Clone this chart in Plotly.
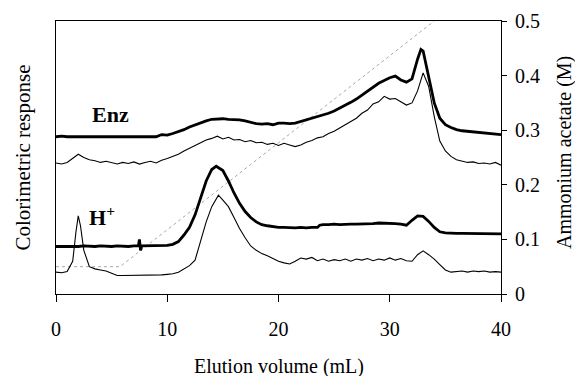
import plotly.graph_objects as go

# ---- data (x in mL, y in plot units of the right axis) ----
enz_thick_x = [0,0.5,1,1.5,2,2.5,3,3.5,4,4.5,5,5.5,6,6.5,7,7.5,8,8.5,9,9.5,10,10.5,11,11.5,12,12.5,13,13.5,14,14.5,15,15.5,16,16.5,17,17.5,18,18.5,19,19.5,20,20.5,21,21.5,22,22.5,23,23.5,24,24.5,25,25.5,26,26.5,27,27.5,28,28.5,29,29.5,30,30.5,31,31.5,32,32.5,32.8,33,33.5,34,34.5,35,35.5,36,36.5,37,37.5,38,38.5,39,39.5,40]
enz_thick_y = [.288,.289,.288,.288,.289,.288,.288,.289,.288,.288,.288,.289,.288,.288,.289,.288,.288,.289,.288,.292,.291,.294,.297,.301,.306,.310,.314,.317,.320,.321,.321,.320,.320,.319,.317,.314,.312,.311,.312,.310,.313,.313,.312,.313,.316,.318,.321,.324,.327,.331,.335,.340,.345,.351,.357,.364,.371,.379,.386,.391,.396,.399,.392,.388,.394,.430,.448,.445,.395,.350,.322,.310,.305,.301,.299,.298,.297,.296,.295,.293,.292,.292]

enz_thin_x = [0,0.5,1,1.5,2,2.5,3,3.5,4,4.5,5,5.5,6,6.5,7,7.5,8,8.5,9,9.5,10,10.5,11,11.5,12,12.5,13,13.5,14,14.5,15,15.5,16,16.5,17,17.5,18,18.5,19,19.5,20,20.5,21,21.5,22,22.5,23,23.5,24,24.5,25,25.5,26,26.5,27,27.5,28,28.5,29,29.5,30,30.5,31,31.5,32,32.5,33,33.5,34,34.5,35,35.5,36,36.5,37,37.5,38,38.5,39,39.5,40]
enz_thin_y = [.240,.238,.241,.248,.256,.250,.246,.244,.241,.243,.240,.238,.241,.239,.242,.238,.241,.243,.240,.245,.248,.252,.256,.262,.267,.272,.277,.282,.285,.289,.284,.287,.282,.283,.279,.281,.277,.278,.274,.276,.272,.276,.273,.270,.273,.278,.281,.286,.288,.294,.298,.304,.309,.316,.322,.331,.337,.348,.352,.362,.357,.358,.352,.346,.350,.372,.405,.380,.325,.280,.262,.252,.246,.243,.241,.242,.239,.240,.238,.241,.236]

h_thick_x = [0,0.5,1,1.5,2,2.5,3,3.5,4,4.5,5,5.5,6,6.5,7,7.4,7.5,7.6,7.7,8,8.5,9,9.5,10,10.5,11,11.5,12,12.5,13,13.5,14,14.4,15,15.5,16,16.5,17,17.5,18,18.5,19,19.5,20,20.5,21,21.5,22,22.5,23,23.5,23.7,24,24.5,25,25.5,26,26.5,27,27.5,28,28.5,29,29.5,30,30.5,31,31.5,32,32.5,33,33.5,34,34.5,35,35.5,36,36.5,37,37.5,38,38.5,39,39.5,40]
h_thick_y = [.087,.087,.086,.087,.087,.088,.087,.087,.088,.087,.087,.088,.087,.087,.088,.088,.100,.080,.088,.088,.088,.089,.088,.089,.091,.096,.108,.122,.145,.175,.207,.228,.234,.226,.207,.185,.166,.151,.140,.132,.127,.125,.123,.122,.122,.121,.121,.122,.121,.122,.122,.126,.127,.127,.128,.127,.128,.128,.128,.128,.129,.129,.130,.130,.129,.129,.128,.126,.135,.143,.142,.133,.122,.114,.112,.111,.111,.111,.111,.111,.110,.111,.110,.110,.110]

h_thin_x = [0,0.5,1,1.5,1.8,2,2.2,2.5,3,3.5,4,4.5,5,5.5,6,6.5,7,7.5,8,8.5,9,9.5,10,10.5,11,11.5,12,12.5,13,13.5,14,14.6,15,15.5,16,16.5,17,17.5,18,18.5,19,19.5,20,20.5,21,21.5,22,22.5,23,23.5,24,24.5,25,25.5,26,26.5,27,27.5,28,28.5,29,29.5,30,30.5,31,31.5,32,32.5,33,33.5,34,34.5,35,35.5,36,36.5,37,37.5,38,38.5,39,39.5,40]
h_thin_y = [.040,.039,.041,.060,.115,.143,.125,.080,.050,.046,.044,.042,.038,.034,.034,.034,.035,.034,.035,.034,.035,.035,.036,.037,.040,.046,.052,.062,.098,.132,.160,.181,.172,.160,.140,.120,.103,.088,.080,.074,.070,.065,.060,.057,.055,.060,.066,.064,.067,.061,.064,.060,.063,.061,.064,.060,.064,.062,.065,.061,.064,.062,.066,.062,.065,.061,.060,.072,.079,.072,.064,.054,.044,.040,.041,.042,.040,.042,.041,.042,.040,.041,.040]

grad_x = [0, 5.75, 34]
grad_y = [0.05, 0.05, 0.5]

y_ticks = [0, 0.1, 0.2, 0.3, 0.4, 0.5]
y_tick_text = ["0", "0.1", "0.2", "0.3", "0.4", "0.5"]
x_ticks = [0, 10, 20, 30, 40]

FONT = "Liberation Serif"
FS = 20

fig = go.Figure()
fig.add_trace(go.Scatter(x=grad_x, y=grad_y, mode="lines",
                         line=dict(color="#a8a8a8", width=1, dash="dot"), hoverinfo="skip"))
fig.add_trace(go.Scatter(x=enz_thin_x, y=enz_thin_y, mode="lines",
                         line=dict(color="black", width=1.1)))
fig.add_trace(go.Scatter(x=h_thin_x, y=h_thin_y, mode="lines",
                         line=dict(color="black", width=1.1)))
fig.add_trace(go.Scatter(x=enz_thick_x, y=enz_thick_y, mode="lines",
                         line=dict(color="black", width=2.8)))
fig.add_trace(go.Scatter(x=h_thick_x, y=h_thick_y, mode="lines",
                         line=dict(color="black", width=2.8)))

fig.update_layout(
    width=575, height=376,
    margin=dict(l=56, r=74, t=21, b=82),
    paper_bgcolor="white", plot_bgcolor="white",
    showlegend=False,
    font=dict(family=FONT, color="black", size=FS),
    xaxis=dict(range=[0, 40], tickvals=x_ticks, ticks="outside", ticklen=7,
               tickcolor="black", showline=True, linecolor="black", linewidth=1.2,
               mirror=True, showgrid=False, zeroline=False, automargin=False,
               ticklabelstandoff=10, tickfont=dict(size=FS)),
    yaxis=dict(range=[0, 0.5], tickvals=y_ticks, ticktext=y_tick_text, side="right",
               ticks="outside", ticklen=5, tickcolor="black", showline=True,
               linecolor="black", linewidth=1.2, mirror=True, showgrid=False,
               zeroline=False, automargin=False, ticklabelstandoff=4,
               tickfont=dict(size=FS)),
    annotations=[
        dict(text="Colorimetric response", x=(22 - 56) / 445, y=0.5, xref="paper", yref="paper",
             xanchor="center", yanchor="middle", textangle=-90, showarrow=False,
             font=dict(size=21, family=FONT)),
        dict(text="Ammonium acetate (M)", x=(565 - 56) / 445, y=(294 - 153) / 273,
             xref="paper", yref="paper", xanchor="center", yanchor="middle",
             textangle=-90, showarrow=False, font=dict(size=FS, family=FONT)),
        dict(text="Elution volume (mL)", x=0.5, y=(294 - 366) / 273,
             xref="paper", yref="paper", xanchor="center", yanchor="middle",
             showarrow=False, font=dict(size=FS, family=FONT)),
        dict(text="<b>Enz</b>", x=4.9, y=0.328, xref="x", yref="y", showarrow=False,
             font=dict(size=22, family=FONT)),
        dict(text="<b>H<sup>+</sup></b>", x=4.1, y=0.142, xref="x", yref="y", showarrow=False,
             font=dict(size=22, family=FONT)),
    ],
)

fig.write_html("out.html")
